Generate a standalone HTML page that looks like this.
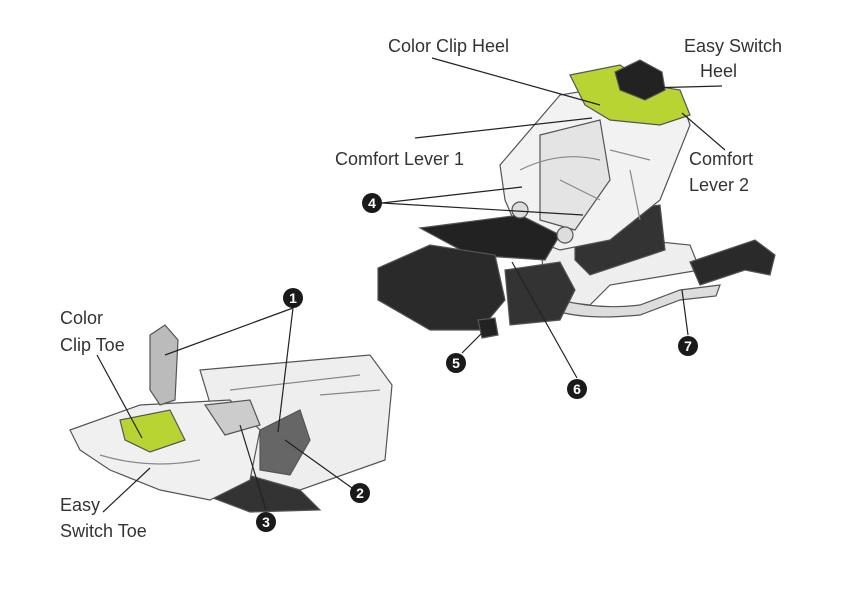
<!DOCTYPE html>
<html><head><style>
html,body{margin:0;padding:0;background:#fff;}
svg{display:block}
text{font-family:"Liberation Sans",sans-serif;font-size:18px;fill:#333;}
.n{fill:#fff;font-weight:bold;font-size:14px;text-anchor:middle;}
</style></head><body>
<svg width="842" height="599" viewBox="0 0 842 599">
<!-- heel binding -->
<g stroke="#555" stroke-width="1.2">
<path d="M540 230 L690 245 L700 270 L610 285 L590 305 L545 300 Z" fill="#eee"/>
<path d="M560 300 Q600 310 640 305 L680 290 L720 285 L716 296 L680 300 L640 315 Q590 320 560 312 Z" fill="#ddd"/>
<path d="M690 262 L755 240 L775 255 L770 275 L745 270 L700 285 Z" fill="#2a2a2a"/>
<path d="M575 215 L660 205 L665 250 L590 275 L575 260 Z" fill="#333"/>
<path d="M500 165 L560 95 L620 85 L680 95 L690 125 L660 200 L610 240 L560 250 L520 235 L505 200 Z" fill="#f2f2f2"/>
<path d="M540 135 L600 120 L610 180 L575 230 L540 220 Z" fill="#e4e4e4"/>
<path d="M520 170 Q560 150 600 160 M560 180 L600 200 M610 150 L650 160 M630 170 L640 220" fill="none" stroke="#888"/>
<path d="M570 75 L620 65 L650 85 L680 90 L690 115 L660 125 L610 120 L585 105 Z" fill="#b8d432"/>
<path d="M615 72 L640 60 L662 72 L665 90 L645 100 L620 90 Z" fill="#222"/>
<path d="M420 228 L520 215 L560 235 L545 260 L470 255 Z" fill="#222"/>
<path d="M378 268 L430 245 L495 255 L505 300 L480 330 L430 330 L378 300 Z" fill="#2a2a2a"/>
<path d="M505 270 L560 262 L575 290 L560 320 L510 325 Z" fill="#333"/>
<path d="M478 320 L495 318 L498 335 L482 338 Z" fill="#222"/>
<circle cx="520" cy="210" r="8" fill="#ddd"/>
<circle cx="565" cy="235" r="8" fill="#ddd"/>
</g>
<!-- toe binding -->
<g stroke="#555" stroke-width="1.2">
<path d="M200 370 L370 355 L392 385 L385 460 L300 490 L230 470 Z" fill="#eee"/>
<path d="M230 470 L300 490 L320 510 L250 512 L205 495 Z" fill="#333"/>
<path d="M70 430 L140 405 L230 400 L260 430 L250 480 L210 500 L160 490 L110 470 L80 450 Z" fill="#f0f0f0"/>
<path d="M120 420 L170 410 L185 440 L150 452 L125 440 Z" fill="#b8d432"/>
<path d="M150 335 L165 325 L178 340 L175 400 L160 405 L150 390 Z" fill="#bbb"/>
<path d="M260 430 L300 410 L310 440 L290 475 L260 470 Z" fill="#666"/>
<path d="M205 405 L250 400 L260 425 L225 435 Z" fill="#ccc"/>
<path d="M230 390 L360 375 M320 395 L380 390 M100 455 Q150 470 200 460" fill="none" stroke="#888"/>
</g>
<!-- leader lines -->
<g stroke="#222" stroke-width="1.2" fill="none">
<line x1="432" y1="58" x2="600" y2="105"/>
<line x1="722" y1="86" x2="645" y2="88"/>
<line x1="415" y1="138" x2="592" y2="118"/>
<line x1="725" y1="150" x2="682" y2="113"/>
<line x1="382" y1="203" x2="522" y2="187"/>
<line x1="382" y1="203" x2="583" y2="215"/>
<line x1="293" y1="308" x2="165" y2="355"/>
<line x1="293" y1="308" x2="278" y2="432"/>
<line x1="462" y1="353" x2="485" y2="330"/>
<line x1="577" y1="378" x2="512" y2="262"/>
<line x1="688" y1="335" x2="682" y2="290"/>
<line x1="352" y1="488" x2="285" y2="440"/>
<line x1="266" y1="510" x2="240" y2="425"/>
<line x1="97" y1="355" x2="142" y2="438"/>
<line x1="103" y1="512" x2="150" y2="468"/>
</g>
<!-- numbers -->
<g>
<circle cx="372" cy="203" r="10" fill="#1a1a1a"/><text class="n" x="372" y="208">4</text>
<circle cx="293" cy="298" r="10" fill="#1a1a1a"/><text class="n" x="293" y="303">1</text>
<circle cx="456" cy="363" r="10" fill="#1a1a1a"/><text class="n" x="456" y="368">5</text>
<circle cx="577" cy="389" r="10" fill="#1a1a1a"/><text class="n" x="577" y="394">6</text>
<circle cx="688" cy="346" r="10" fill="#1a1a1a"/><text class="n" x="688" y="351">7</text>
<circle cx="360" cy="493" r="10" fill="#1a1a1a"/><text class="n" x="360" y="498">2</text>
<circle cx="266" cy="522" r="10" fill="#1a1a1a"/><text class="n" x="266" y="527">3</text>
</g>
<!-- labels -->
<text x="388" y="52">Color Clip Heel</text>
<text x="684" y="52">Easy Switch</text>
<text x="700" y="77">Heel</text>
<text x="335" y="165">Comfort Lever 1</text>
<text x="689" y="165">Comfort</text>
<text x="689" y="191">Lever 2</text>
<text x="60" y="324">Color</text>
<text x="60" y="351">Clip Toe</text>
<text x="60" y="511">Easy</text>
<text x="60" y="537">Switch Toe</text>
</svg>
</body></html>
